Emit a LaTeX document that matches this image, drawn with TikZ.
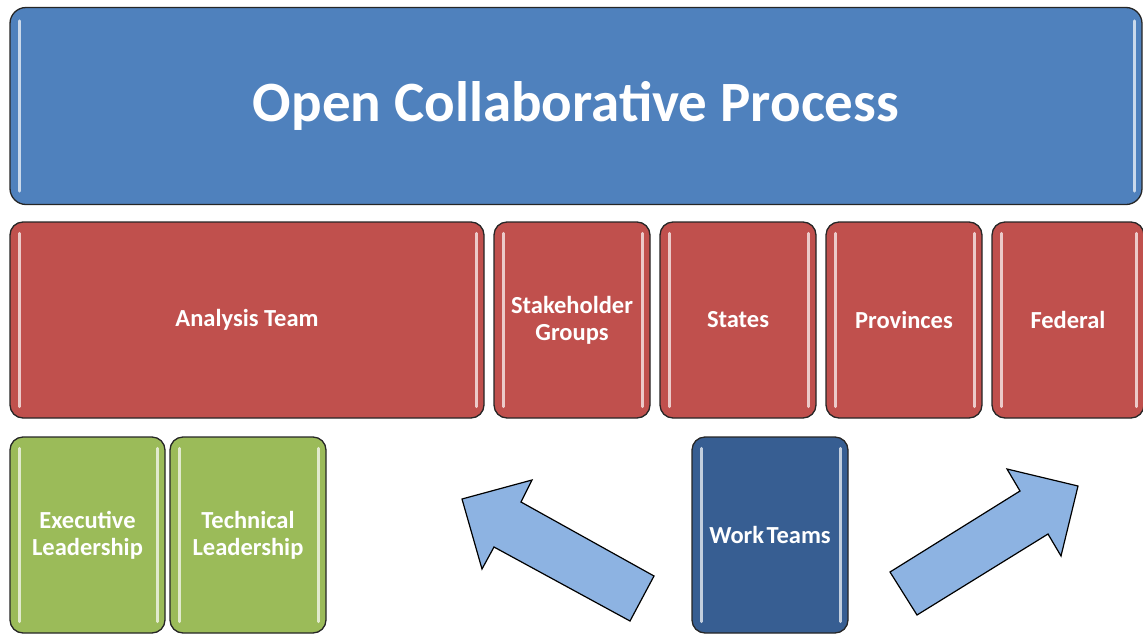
\documentclass[tikz,border=0pt]{standalone}
\usepackage{fontspec}
\setmainfont{Carlito}
\definecolor{topblue}{HTML}{4F81BD}
\definecolor{boxred}{HTML}{C0504D}
\definecolor{boxgreen}{HTML}{9BBB59}
\definecolor{darkblue}{HTML}{375E92}
\definecolor{arrowblue}{HTML}{8DB3E2}
\newcommand\boxgloss[2][12]{%
  \draw[gloss] ([xshift=10pt,yshift=-#1pt]#2.north west) -- ([xshift=10pt,yshift=#1pt]#2.south west);
  \draw[gloss] ([xshift=-8pt,yshift=-#1pt]#2.north east) -- ([xshift=-8pt,yshift=#1pt]#2.south east);}
\begin{document}
\begin{tikzpicture}[x=1pt,y=-1pt,
  box/.style={draw=black!85, line width=1.3pt, rounded corners=13pt, text=white,
    font=\bfseries\fontsize{24.5}{27}\selectfont, align=center, inner sep=0pt},
  gloss/.style={white, opacity=0.7, line width=3pt, line cap=round},
  bigarrow/.style={draw=black, line width=1.2pt, fill=arrowblue, line join=miter}]
\useasboundingbox (0,0) rectangle (1143,635);
% top
\node[box, fill=topblue, minimum width=1132pt, minimum height=197pt,
  font=\bfseries\fontsize{57}{62}\selectfont, rounded corners=16pt] (ocp) at (576,106) {Open Collaborative Process};
\boxgloss[14]{ocp}
% red row
\node[box, fill=boxred, minimum width=474pt, minimum height=196pt] (at) at (247,320) {Analysis Team};
\node[box, fill=boxred, minimum width=156pt, minimum height=196pt] (sg) at (572,320) {Stakeholder\\Groups};
\node[box, fill=boxred, minimum width=156pt, minimum height=196pt] (st) at (738,320) {States};
\node[box, fill=boxred, minimum width=156pt, minimum height=196pt] (pr) at (904,320) {Provinces};
\node[box, fill=boxred, minimum width=152pt, minimum height=196pt] (fe) at (1068,320) {Federal};
\boxgloss{at}\boxgloss{sg}\boxgloss{st}\boxgloss{pr}\boxgloss{fe}
% green
\node[box, fill=boxgreen, minimum width=155pt, minimum height=196pt] (el) at (87.5,535) {Executive\\Leadership};
\node[box, fill=boxgreen, minimum width=156pt, minimum height=196pt] (tl) at (248,535) {Technical\\Leadership};
\node[box, fill=darkblue, minimum width=156pt, minimum height=196pt] (wt) at (770,535) {Work\hspace{0.1em}Teams};
\boxgloss{el}\boxgloss{tl}\boxgloss{wt}
% block arrows
\draw[bigarrow] (462,499) -- (532,480) -- (521,502) -- (654,576) -- (630,621) -- (494,547) -- (482,569) -- cycle;
\draw[bigarrow] (1078,486) -- (1007,469) -- (1020,491) -- (890,572) -- (917,615) -- (1048,534) -- (1061,556) -- cycle;
\end{tikzpicture}
\end{document}
